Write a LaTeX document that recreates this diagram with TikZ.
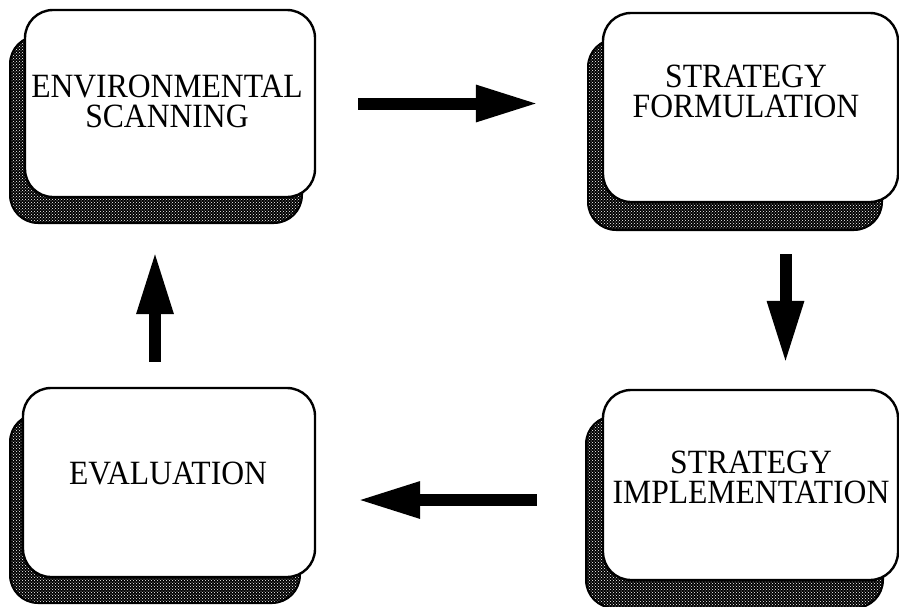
\documentclass[tikz,border=0pt]{standalone}
\usepackage{fontspec}
\setmainfont{Liberation Serif}
\newfontfamily\cardfont[FakeStretch=0.93]{Liberation Serif}
\usetikzlibrary{arrows.meta,patterns}
\begin{document}
\begin{tikzpicture}[x=1pt,y=-1pt,
  card/.style={draw, line width=2.4pt, fill=white, rounded corners=28pt, inner sep=0pt},
  shadowbox/.style={draw, line width=2pt, rounded corners=28pt, inner sep=0pt,
    preaction={fill=black}, pattern=crosshatch dots, pattern color=white},
  cardtext/.style={font=\cardfont\fontsize{34}{30}\selectfont, align=center, inner sep=0pt},
  flow/.style={line width=12pt, -{Triangle[width=34pt,length=63pt]}}
]
\useasboundingbox (0,0) rectangle (899,606);
\clip (0,0) rectangle (899,606);

% environmental scanning
\node[shadowbox, minimum width=292pt, minimum height=187pt] (envsh) at (156,129.5) {};
\node[card, minimum width=290pt, minimum height=187pt] (env) at (170,103.5) {};
\node[cardtext] (envtxt) at (167,101) {ENVIRONMENTAL\\SCANNING};

% strategy formulation
\node[shadowbox, minimum width=294pt, minimum height=191pt] (formsh) at (735,134.5) {};
\node[card, minimum width=295pt, minimum height=189pt] (form) at (750.5,107.5) {};
\node[cardtext] (formtxt) at (746,91) {STRATEGY\\FORMULATION};

% strategy implementation
\node[shadowbox, minimum width=297pt, minimum height=192pt] (implsh) at (734.5,512) {};
\node[card, minimum width=295pt, minimum height=190pt] (impl) at (750.5,485) {};
\node[cardtext] (impltxt) at (751,477) {STRATEGY\\IMPLEMENTATION};

% evaluation
\node[shadowbox, minimum width=290pt, minimum height=189pt] (evalsh) at (155,508.5) {};
\node[card, minimum width=292pt, minimum height=189pt] (eval) at (169,482.5) {};
\node[cardtext] (evaltxt) at (168,473) {EVALUATION};

% cycle arrows
\draw[flow, shorten <=42pt, shorten >=63pt] (env.east) -- (env.east -| form.west);
\draw[flow, shorten <=51pt, shorten >=25pt] ([xshift=35pt]form.south) -- ([xshift=35pt]form.south |- impl.north);
\draw[flow, shorten <=65pt, shorten >=41pt] ([yshift=-15pt]impl.west) -- ([yshift=-15pt]impl.west -| eval.east);
\draw[flow, shorten <=25pt, shorten >=53pt] ([xshift=-14pt]eval.north) -- ([xshift=-14pt]eval.north |- env.south);
\end{tikzpicture}
\end{document}
